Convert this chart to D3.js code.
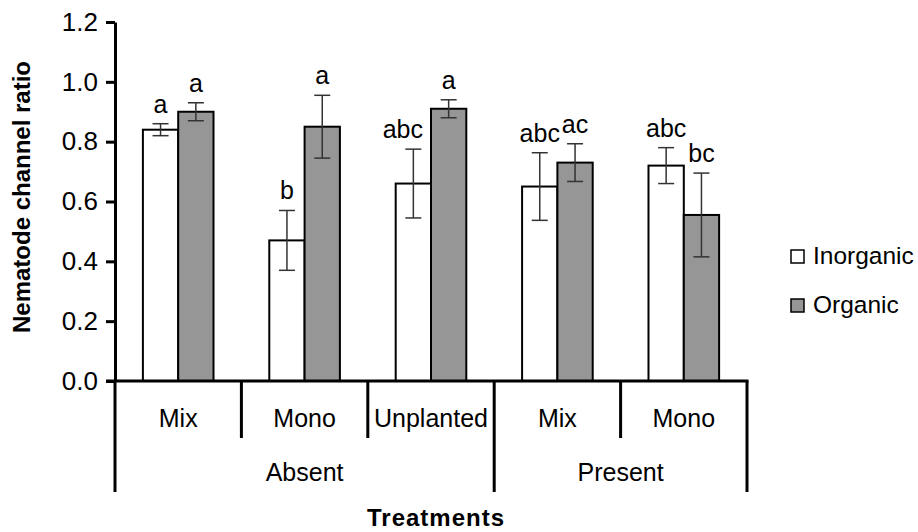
<html>
<head>
<meta charset="utf-8">
<script src="https://d3js.org/d3.v7.min.js"></script>
<style>
  body { margin: 0; background: white; }
  text { font-family: Arial, "Liberation Sans", sans-serif; fill: black; }
</style>
</head>
<body>
<script>
// data
var groups = ["Absent", "Absent", "Absent", "Present", "Present"];
var treatments = ["Mix", "Mono", "Unplanted", "Mix", "Mono"];
var seriesNames = ["Inorganic", "Organic"];
var inorganicMean = [0.84, 0.47, 0.66, 0.65, 0.72];
var inorganicErr = [0.02, 0.10, 0.115, 0.113, 0.06];
var organicMean = [0.90, 0.85, 0.91, 0.73, 0.555];
var organicErr = [0.03, 0.105, 0.03, 0.063, 0.14];
var inorganicLetters = ["a", "b", "abc", "abc", "abc"];
var organicLetters = ["a", "a", "a", "ac", "bc"];
var yTicks = [0, 0.2, 0.4, 0.6, 0.8, 1.0, 1.2];

var width = 918, height = 532;
var plotLeft = 115, plotRight = 747, plotTop = 22, plotBottom = 381;
var fills = ["white", "#969696"];

var svg = d3.select("body").append("svg")
  .attr("width", width)
  .attr("height", height);

// build rows: one per bar
var rows = [];
treatments.forEach(function (t, i) {
  rows.push({ idx: i, s: 0, mean: inorganicMean[i], err: inorganicErr[i], letter: inorganicLetters[i] });
  rows.push({ idx: i, s: 1, mean: organicMean[i], err: organicErr[i], letter: organicLetters[i] });
});

var x0 = d3.scaleBand()
  .domain(d3.range(treatments.length))
  .range([plotLeft, plotRight])
  .padding(0);

var x1 = d3.scaleBand()
  .domain([0, 1])
  .range([0, x0.bandwidth()])
  .paddingInner(0)
  .paddingOuter(0.79);

var y = d3.scaleLinear()
  .domain([0, 1.2])
  .range([plotBottom, plotTop]);

// bars
svg.append("g").selectAll("rect")
  .data(rows)
  .enter()
  .append("rect")
  .attr("x", function (d) { return x0(d.idx) + x1(d.s); })
  .attr("y", function (d) { return y(d.mean); })
  .attr("width", x1.bandwidth())
  .attr("height", function (d) { return y(0) - y(d.mean); })
  .attr("fill", function (d) { return fills[d.s]; })
  .attr("stroke", "black")
  .attr("stroke-width", 2);

// error bars
var cap = 8;
var eb = svg.append("g")
  .attr("stroke", "#333")
  .attr("stroke-width", 1.5);
rows.forEach(function (d) {
  var cx = x0(d.idx) + x1(d.s) + x1.bandwidth() / 2;
  var y1 = y(d.mean + d.err), y2 = y(d.mean - d.err);
  eb.append("line").attr("x1", cx).attr("x2", cx).attr("y1", y1).attr("y2", y2);
  eb.append("line").attr("x1", cx - cap).attr("x2", cx + cap).attr("y1", y1).attr("y2", y1);
  eb.append("line").attr("x1", cx - cap).attr("x2", cx + cap).attr("y1", y2).attr("y2", y2);
});

// significance letters
var letters = svg.append("g").selectAll("text")
  .data(rows)
  .enter()
  .append("text")
  .attr("x", function (d) { return x0(d.idx) + x1(d.s) + x1.bandwidth() / 2; })
  .attr("y", function (d) { return y(d.mean + d.err) - 11; })
  .attr("text-anchor", "middle")
  .style("font-size", "25px")
  .text(function (d) { return d.letter; });

// nudge a left label if it would run into the taller neighbour bar
letters.each(function (d) {
  if (d.s !== 0) return;
  var el = d3.select(this);
  var w = this.getComputedTextLength();
  var cx = +el.attr("x");
  var nbLeft = x0(d.idx) + x1(1);
  var nbTop = y(organicMean[d.idx]);
  if (+el.attr("y") > nbTop && cx + w / 2 > nbLeft - 6) {
    el.attr("x", nbLeft - 8 - w / 2);
  }
});

// y axis
var yAxis = d3.axisLeft(y)
  .tickValues(yTicks)
  .tickFormat(d3.format(".1f"))
  .tickSize(9)
  .tickSizeOuter(0)
  .tickPadding(8);

var ya = svg.append("g")
  .attr("transform", "translate(" + plotLeft + ",0)")
  .call(yAxis);
ya.select(".domain").attr("stroke-width", 3);
ya.selectAll(".tick line").attr("stroke-width", 3);
ya.selectAll(".tick text")
  .style("font-size", "26px")
  .style("font-family", "Arial, 'Liberation Sans', sans-serif")
  .attr("fill", "black");

// x axis line
svg.append("line")
  .attr("x1", plotLeft - 9).attr("x2", plotRight + 1.5)
  .attr("y1", y(0)).attr("y2", y(0))
  .attr("stroke", "black").attr("stroke-width", 3);

// dividers between categories, longer at group edges
var edges = d3.range(treatments.length + 1);
svg.append("g").selectAll("line")
  .data(edges)
  .enter()
  .append("line")
  .attr("x1", function (i) { return i < treatments.length ? x0(i) : plotRight; })
  .attr("x2", function (i) { return i < treatments.length ? x0(i) : plotRight; })
  .attr("y1", y(0))
  .attr("y2", function (i) {
    var isGroupEdge = i === 0 || i === treatments.length || groups[i] !== groups[i - 1];
    return isGroupEdge ? 492 : 438;
  })
  .attr("stroke", "black")
  .attr("stroke-width", 3);

// treatment labels
svg.append("g").selectAll("text")
  .data(treatments)
  .enter()
  .append("text")
  .attr("x", function (d, i) { return x0(i) + x0.bandwidth() / 2; })
  .attr("y", 427)
  .attr("text-anchor", "middle")
  .style("font-size", "25px")
  .text(function (d) { return d; });

// group labels
var groupNames = Array.from(new Set(groups));
svg.append("g").selectAll("text")
  .data(groupNames)
  .enter()
  .append("text")
  .attr("x", function (g) {
    var idx = d3.range(groups.length).filter(function (i) { return groups[i] === g; });
    var a = x0(idx[0]), b = x0(idx[idx.length - 1]) + x0.bandwidth();
    return (a + b) / 2;
  })
  .attr("y", 481)
  .attr("text-anchor", "middle")
  .style("font-size", "25px")
  .text(function (d) { return d; });

// axis titles
svg.append("text")
  .attr("x", 436)
  .attr("y", 526)
  .attr("text-anchor", "middle")
  .style("font-size", "24px")
  .style("font-weight", "bold")
  .style("letter-spacing", "1px")
  .text("Treatments");

svg.append("text")
  .attr("transform", "translate(30,197) rotate(-90)")
  .attr("text-anchor", "middle")
  .style("font-size", "24px")
  .style("font-weight", "bold")
  .text("Nematode channel ratio");

// legend
var legend = svg.append("g").selectAll("g")
  .data(seriesNames)
  .enter()
  .append("g")
  .attr("transform", function (d, i) { return "translate(791," + (250 + i * 49) + ")"; });
legend.append("rect")
  .attr("width", 13).attr("height", 13)
  .attr("fill", function (d, i) { return fills[i]; })
  .attr("stroke", "black")
  .attr("stroke-width", 1.5);
legend.append("text")
  .attr("x", 22)
  .attr("y", 14)
  .style("font-size", "24.5px")
  .text(function (d) { return d; });
</script>
</body>
</html>
